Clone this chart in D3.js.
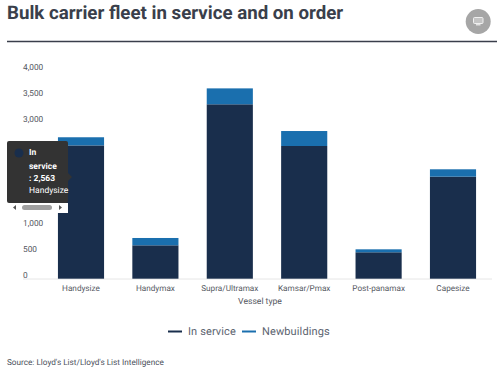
<!DOCTYPE html>
<html>
<head>
<meta charset="utf-8">
<script src="https://cdn.jsdelivr.net/npm/d3@7"></script>
<style>
  html, body { margin: 0; padding: 0; background: #fff; }
  svg { display: block; font-family: Roboto, sans-serif; text-rendering: geometricPrecision; }
</style>
</head>
<body>
<div id="container"></div>
<script>
let categories = ["Handysize", "Handymax", "Supra/Ultramax", "Kamsar/Pmax", "Post-panamax", "Capesize"];
let inService = [2563, 642, 3354, 2552, 508, 1962];
let newbuildings = [157, 141, 306, 288, 57, 142];
let yTicks = [0, 500, 1000, 1500, 2000, 2500, 3000, 3500, 4000];
let seriesNames = ["In service", "Newbuildings"];
let seriesColors = ["#192e4c", "#1a6fae"];

let w = 500;
let h = 372;

let viz = d3.select("#container").append("svg")
  .attr("width", w)
  .attr("height", h);

// title + rule
viz.append("text")
  .attr("x", 7).attr("y", 19)
  .attr("font-size", 18.7).attr("font-weight", 700)
  .attr("fill", "#3a3f4b")
  .text("Bulk carrier fleet in service and on order");

viz.append("line")
  .attr("x1", 7).attr("x2", 497).attr("y1", 41.5).attr("y2", 41.5)
  .attr("stroke", "#3a3f4b").attr("stroke-width", 1.3);

// round grey button with the monitor icon
viz.append("circle").attr("cx", 478.2).attr("cy", 21.5).attr("r", 12.5).attr("fill", "#a6a6a6");
viz.append("rect").attr("x", 473.5).attr("y", 17.5).attr("width", 9.5).attr("height", 6).attr("rx", 1)
  .attr("fill", "#c4c4c4").attr("stroke", "#f0f0f0").attr("stroke-width", 1);
viz.append("rect").attr("x", 476).attr("y", 24.2).attr("width", 4.5).attr("height", 1.2).attr("fill", "#f0f0f0");

let xScale = d3.scaleBand().domain(categories).range([43.8, 490.2]).paddingInner(0.38).paddingOuter(0.19);
let yScale = d3.scaleLinear().domain([0, 4000]).range([278.7, 70.7]);

// y axis, labels sit just above their level
let yAxis = d3.axisLeft(yScale).tickValues(yTicks).tickSize(0).tickFormat(d3.format(","));
let yAxisGroup = viz.append("g").attr("transform", "translate(23, 0)").call(yAxis);
yAxisGroup.select(".domain").remove();
yAxisGroup.selectAll("text")
  .attr("x", 0).attr("dy", "-0.2em")
  .attr("text-anchor", "start")
  .attr("font-size", 8.3).attr("font-family", "Roboto, sans-serif")
  .attr("fill", "#55585f");

let xAxis = d3.axisBottom(xScale).tickSize(0).tickPadding(6);
let xAxisGroup = viz.append("g").attr("transform", "translate(0, 278.7)").call(xAxis);
xAxisGroup.select(".domain").remove();
xAxisGroup.selectAll("text")
  .attr("font-size", 8.2).attr("font-family", "Roboto, sans-serif")
  .attr("fill", "#55585f");

viz.append("line")
  .attr("x1", 23).attr("x2", 492).attr("y1", 279).attr("y2", 279)
  .attr("stroke", "#e6e6e6").attr("stroke-width", 1);

viz.append("text")
  .attr("x", 260).attr("y", 304)
  .attr("text-anchor", "middle")
  .attr("font-size", 8.6).attr("fill", "#55585f")
  .text("Vessel type");

// stacked bars
let rows = categories.map(function(d, i){
  return { name: d, service: inService[i], newb: newbuildings[i] };
});
let stack = d3.stack().keys(["service", "newb"])(rows);

viz.append("g").selectAll("g")
  .data(stack)
  .enter()
  .append("g")
    .attr("fill", function(d, i){ return seriesColors[i]; })
  .selectAll("rect")
  .data(function(d){ return d; })
  .enter()
  .append("rect")
    .attr("x", function(d){ return xScale(d.data.name); })
    .attr("width", xScale.bandwidth())
    .attr("y", function(d){ return yScale(d[1]); })
    .attr("height", function(d){ return yScale(d[0]) - yScale(d[1]); });

// legend
let legendX = [168, 242];
let legendText = [188, 262];
seriesNames.forEach(function(name, i){
  viz.append("line")
    .attr("x1", legendX[i]).attr("x2", legendX[i] + 14)
    .attr("y1", 331.5).attr("y2", 331.5)
    .attr("stroke", seriesColors[i]).attr("stroke-width", 2);
  viz.append("text")
    .attr("x", legendText[i]).attr("y", 334.7)
    .attr("font-size", 11).attr("letter-spacing", 0.12)
    .attr("fill", "#5c6470")
    .text(name);
});

// source
viz.append("text")
  .attr("x", 7).attr("y", 365)
  .attr("font-size", 8.2).attr("fill", "#4a4f5a")
  .text("Source: Lloyd's List/Lloyd's List Intelligence");

// tooltip with its little scrollbar
let tip = viz.append("g");
tip.append("rect").attr("x", 7).attr("y", 141).attr("width", 61).attr("height", 62).attr("rx", 2).attr("fill", "#333333");
tip.append("path").attr("d", "M68,173 L72,177 L68,181 Z").attr("fill", "#333333");
tip.append("circle").attr("cx", 19).attr("cy", 153).attr("r", 4.5).attr("fill", "#192e4c");
let tipLines = [["In", 155, 700], ["service", 168.5, 700], [": 2,563", 181, 700], ["Handysize", 192.5, 400]];
tipLines.forEach(function(t){
  tip.append("text")
    .attr("x", 29).attr("y", t[1])
    .attr("font-size", 8.5).attr("font-weight", t[2])
    .attr("fill", "#ffffff")
    .text(t[0]);
});
tip.append("rect").attr("x", 7).attr("y", 203).attr("width", 61).attr("height", 10).attr("fill", "#ffffff");
tip.append("rect").attr("x", 22).attr("y", 205).attr("width", 30).attr("height", 5).attr("rx", 2.5).attr("fill", "#a0a0a0");
tip.append("path").attr("d", "M16,205 v5 l-3,-2.5 z").attr("fill", "#555");
tip.append("path").attr("d", "M59,205 v5 l3,-2.5 z").attr("fill", "#555");
</script>
</body>
</html>
